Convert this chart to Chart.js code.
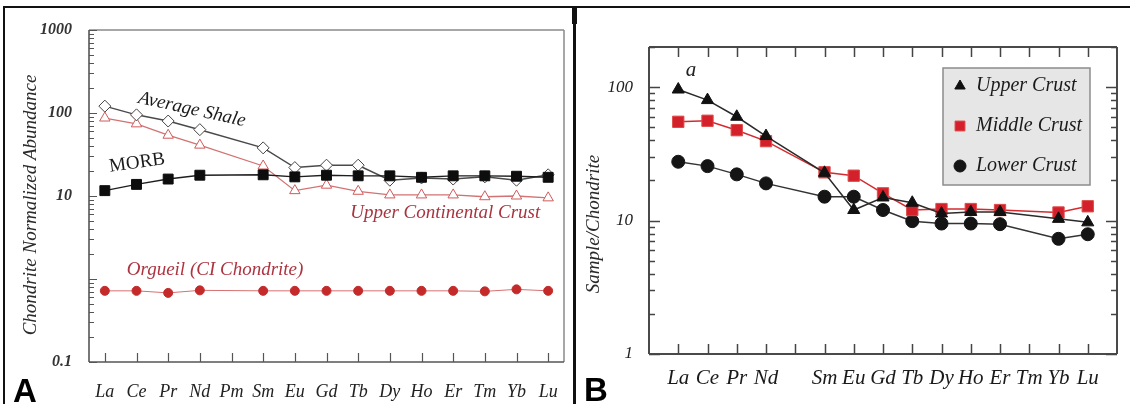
<!DOCTYPE html>
<html><head><meta charset="utf-8">
<script src="https://cdn.jsdelivr.net/npm/chart.js@4"></script>
<style>
html,body{margin:0;padding:0;background:#fff;width:1130px;height:404px;overflow:hidden;position:relative;}
#ca{position:absolute;left:0;top:0;}
#cb{position:absolute;left:577px;top:0;}
.ln{position:absolute;background:#111;}
</style></head><body>
<canvas id="ca" width="573" height="404"></canvas>
<canvas id="cb" width="553" height="404"></canvas>
<div class="ln" style="left:3px;top:6px;width:1127px;height:2px"></div>
<div class="ln" style="left:3px;top:6px;width:2px;height:398px"></div>
<div class="ln" style="left:573px;top:6px;width:3px;height:398px"></div>
<div class="ln" style="left:572px;top:6px;width:5px;height:18px"></div>
<script>
// ---------- Panel A data ----------
const elementsA = ['La','Ce','Pr','Nd','Pm','Sm','Eu','Gd','Tb','Dy','Ho','Er','Tm','Yb','Lu'];
const averageShale = [121, 95, 80, 63, null, 38, 22, 23.5, 23.5, 15.5, 16.5, 16, 17, 15.5, 18];
const morb = [11.6, 13.8, 16, 17.8, null, 18, 17, 17.8, 17.5, 17.5, 16.8, 17.5, 17.5, 17.3, 16.8];
const upperContinentalCrust = [87, 74, 54, 41, null, 23, 11.6, 13.5, 11.4, 10.3, 10.3, 10.3, 9.8, 10, 9.5];
const orgueil = [0.72, 0.72, 0.68, 0.73, null, 0.72, 0.72, 0.72, 0.72, 0.72, 0.72, 0.72, 0.71, 0.75, 0.72];
const yTicksA = [0.1, 1, 10, 100, 1000];
const yTickLabelsA = ['0.1', '', '10', '100', '1000'];

// ---------- Panel B data ----------
const elementsB = ['La','Ce','Pr','Nd','Pm','Sm','Eu','Gd','Tb','Dy','Ho','Er','Tm','Yb','Lu'];
const xTickLabelsB = ['La','Ce','Pr','Nd','','Sm','Eu','Gd','Tb','Dy','Ho','Er','Tm','Yb','Lu'];
const upperCrust = [96, 80, 60, 43, null, 22.8, 12, 14.9, 13.6, 11.3, 11.6, 11.6, null, 10.3, 9.7];
const middleCrust = [55, 56, 47.6, 39.4, null, 23, 21.7, 16, 12, 12.2, 12.2, 12, null, 11.5, 12.8];
const lowerCrust = [27.6, 25.6, 22.2, 19, null, 15.1, 15.1, 12, 9.9, 9.5, 9.5, 9.4, null, 7.3, 7.9];
const yTicksB = [1, 10, 100];
const yTickLabelsB = ['1', '10', '100'];

const SERIF = "'Liberation Serif','DejaVu Serif',serif";
const SANS = "'Liberation Sans',Arial,sans-serif";

function logMarks(min, max) {
  const out = [];
  const e0 = Math.floor(Math.log10(min) + 1e-9), e1 = Math.ceil(Math.log10(max) - 1e-9);
  for (let e = e0; e <= e1; e++) {
    for (let k = 1; k <= 9; k++) {
      const v = k * Math.pow(10, e);
      if (v >= min * 0.999 && v <= max * 1.001) out.push({ v, major: k === 1 });
    }
  }
  return out;
}

const decor = {
  id: 'decor',
  beforeDatasetsDraw(chart, args, o) {
    const ctx = chart.ctx, ca = chart.chartArea, xs = chart.scales.x, ys = chart.scales.y;
    ctx.save();
    o.frame.forEach(f => {
      ctx.strokeStyle = f.color; ctx.lineWidth = f.width; ctx.beginPath();
      if (f.side === 'left') { ctx.moveTo(ca.left, ca.top); ctx.lineTo(ca.left, ca.bottom); }
      if (f.side === 'right') { ctx.moveTo(ca.right, ca.top); ctx.lineTo(ca.right, ca.bottom); }
      if (f.side === 'top') { ctx.moveTo(ca.left, ca.top); ctx.lineTo(ca.right, ca.top); }
      if (f.side === 'bottom') { ctx.moveTo(ca.left, ca.bottom); ctx.lineTo(ca.right, ca.bottom); }
      ctx.stroke();
    });
    ctx.strokeStyle = o.tickColor; ctx.lineWidth = o.tickWidth; ctx.beginPath();
    logMarks(ys.min, ys.max).forEach(m => {
      const py = Math.round(ys.getPixelForValue(m.v)) + 0.5;
      const len = m.major ? o.yMajor : o.yMinor;
      o.ySides.forEach(s => {
        if (s === 'left') { ctx.moveTo(ca.left, py); ctx.lineTo(ca.left + len, py); }
        else { ctx.moveTo(ca.right, py); ctx.lineTo(ca.right - len, py); }
      });
    });
    xs.ticks.forEach((t, i) => {
      const px = Math.round(xs.getPixelForTick(i)) + 0.5;
      o.xSides.forEach(s => {
        if (s === 'bottom') { ctx.moveTo(px, ca.bottom); ctx.lineTo(px, ca.bottom - o.xLen); }
        else { ctx.moveTo(px, ca.top); ctx.lineTo(px, ca.top + o.xLen); }
      });
    });
    ctx.stroke();
    ctx.restore();
  },
  afterDatasetsDraw(chart, args, o) {
    const ctx = chart.ctx, xs = chart.scales.x, ys = chart.scales.y, ca = chart.chartArea;
    ctx.save();
    (o.notes || []).forEach(n => {
      let x, y;
      if (n.px !== undefined) { x = n.px; y = n.py; }
      else { x = xs.getPixelForValue(n.x); y = ys.getPixelForValue(n.y); }
      ctx.save();
      ctx.translate(x, y);
      ctx.rotate((n.rot || 0) * Math.PI / 180);
      ctx.font = n.font; ctx.fillStyle = n.color;
      ctx.textAlign = n.align || 'center'; ctx.textBaseline = n.base || 'middle';
      ctx.fillText(n.text, 0, 0);
      ctx.restore();
    });
    if (o.legend) {
      const L = o.legend;
      const bx = ca.left + L.dx, by = ca.top + L.dy;
      ctx.fillStyle = L.fill; ctx.fillRect(bx, by, L.w, L.h);
      ctx.strokeStyle = L.border; ctx.lineWidth = 1.5; ctx.strokeRect(bx, by, L.w, L.h);
      chart.data.datasets.forEach((ds, i) => {
        const cy = by + L.rowTop + i * L.rowGap;
        ctx.fillStyle = ds.pointBackgroundColor;
        ctx.strokeStyle = ds.pointBorderColor;
        ctx.lineWidth = 1;
        Chart.helpers.drawPoint(ctx, {
          pointStyle: ds.pointStyle, radius: L.markR[i], borderWidth: 1, rotation: 0
        }, bx + L.markX, cy);
        ctx.font = L.font; ctx.fillStyle = '#1a1a1a';
        ctx.textAlign = 'left'; ctx.textBaseline = 'middle';
        ctx.fillText(ds.label, bx + L.textX, cy);
      });
    }
    ctx.restore();
  }
};

function mkLine(label, data, style) {
  return Object.assign({
    label, data, spanGaps: true, tension: 0, fill: false
  }, style);
}

// ---------- Chart A ----------
new Chart(document.getElementById('ca'), {
  type: 'line',
  data: {
    labels: elementsA,
    datasets: [
      mkLine('MORB', morb, { borderColor: '#1e1e1e', borderWidth: 1.4, pointStyle: 'rect', pointRadius: 7,
        pointBackgroundColor: '#0d0d0d', pointBorderColor: '#0d0d0d', pointBorderWidth: 1 }),
      mkLine('Average Shale', averageShale, { borderColor: '#4a4a4a', borderWidth: 1.5, pointStyle: 'rectRot', pointRadius: 6,
        pointBackgroundColor: '#ffffff', pointBorderColor: '#444', pointBorderWidth: 1 }),
      mkLine('Upper Continental Crust', upperContinentalCrust, { borderColor: '#d27272', borderWidth: 1.3, pointStyle: 'triangle', pointRadius: 6,
        pointBackgroundColor: '#ffffff', pointBorderColor: '#d05a5a', pointBorderWidth: 1 }),
      mkLine('Orgueil (CI Chondrite)', orgueil, { borderColor: '#d77070', borderWidth: 1, pointStyle: 'circle', pointRadius: 4.5,
        pointBackgroundColor: '#c42a2a', pointBorderColor: '#c42a2a', pointBorderWidth: 1 })
    ]
  },
  options: {
    responsive: false, animation: false, devicePixelRatio: 1, events: [],
    layout: { padding: { left: 0, top: 30, right: 9, bottom: 0 } },
    plugins: {
      legend: { display: false }, tooltip: { enabled: false },
      decor: {
        frame: [
          { side: 'top', color: '#8a8a8a', width: 1.5 },
          { side: 'right', color: '#8a8a8a', width: 1.5 },
          { side: 'left', color: '#555', width: 1.6 },
          { side: 'bottom', color: '#555', width: 1.6 }
        ],
        tickColor: '#555', tickWidth: 1.2, yMajor: 8, yMinor: 5, ySides: ['left'], xSides: ['bottom'], xLen: 9,
        notes: [
          { text: 'Average Shale', x: 2.75, y: 110, rot: 12.5, font: 'italic 19px ' + SERIF, color: '#1a1a1a' },
          { text: 'MORB', x: 1.02, y: 25, rot: -8, font: '19px ' + SERIF, color: '#1a1a1a' },
          { text: 'Upper Continental Crust', x: 10.75, y: 6.2, font: 'italic 19px ' + SERIF, color: '#a8343f' },
          { text: 'Orgueil (CI Chondrite)', x: 3.48, y: 1.28, font: 'italic 19px ' + SERIF, color: '#ad3440' },
          { text: 'Chondrite Normalized Abundance', px: 31, py: 205, rot: -90, font: 'italic 19px ' + SERIF, color: '#2a2a2a' },
          { text: 'A', px: 13, py: 402, align: 'left', base: 'alphabetic', font: 'bold 33px ' + SANS, color: '#000' }
        ]
      }
    },
    scales: {
      x: {
        type: 'category', offset: true,
        grid: { display: false }, border: { display: false },
        ticks: { autoSkip: false, maxRotation: 0, padding: 11, color: '#222', font: { family: SERIF, size: 18, style: 'italic' } },
        afterFit: s => { s.height = 42; }
      },
      y: {
        type: 'logarithmic', min: 0.1, max: 1000,
        grid: { display: false }, border: { display: false },
        afterBuildTicks: s => { s.ticks = yTicksA.map(v => ({ value: v })); },
        ticks: { autoSkip: false, padding: 9, color: '#333',
          font: { family: SERIF, size: 16, style: 'italic', weight: 'bold' },
          callback: (v, i) => yTickLabelsA[i] },
        afterFit: s => { s.width = 89; }
      }
    }
  },
  plugins: [decor]
});

// ---------- Chart B ----------
const pts = arr => arr.map((v, i) => ({ x: i, y: v }));
new Chart(document.getElementById('cb'), {
  type: 'line',
  data: {
    datasets: [
      mkLine('Upper Crust', pts(upperCrust), { borderColor: '#2a2a2a', borderWidth: 1.5, pointStyle: 'triangle', pointRadius: 7,
        pointBackgroundColor: '#111', pointBorderColor: '#111', pointBorderWidth: 1 }),
      mkLine('Middle Crust', pts(middleCrust), { borderColor: '#d42a2f', borderWidth: 1.5, pointStyle: 'rect', pointRadius: 8,
        pointBackgroundColor: '#d3202a', pointBorderColor: '#e04a4a', pointBorderWidth: 1 }),
      mkLine('Lower Crust', pts(lowerCrust), { borderColor: '#333', borderWidth: 1.5, pointStyle: 'circle', pointRadius: 6.5,
        pointBackgroundColor: '#151515', pointBorderColor: '#151515', pointBorderWidth: 1 })
    ]
  },
  options: {
    responsive: false, animation: false, devicePixelRatio: 1, events: [],
    layout: { padding: { left: 0, top: 47, right: 13, bottom: 0 } },
    plugins: {
      legend: { display: false }, tooltip: { enabled: false },
      decor: {
        frame: [
          { side: 'top', color: '#4a4a4a', width: 2 },
          { side: 'right', color: '#4a4a4a', width: 2 },
          { side: 'left', color: '#4a4a4a', width: 2 },
          { side: 'bottom', color: '#4a4a4a', width: 2 }
        ],
        tickColor: '#444', tickWidth: 1.5, yMajor: 11, yMinor: 6, ySides: ['left', 'right'], xSides: ['bottom', 'top'], xLen: 10,
        notes: [
          { text: 'a', x: 0.44, y: 134, font: 'italic 21px ' + SERIF, color: '#222' },
          { text: 'Sample/Chondrite', px: 17, py: 224, rot: -90, font: 'italic 19px ' + SERIF, color: '#2a2a2a' },
          { text: 'B', px: 7, py: 401, align: 'left', base: 'alphabetic', font: 'bold 33px ' + SANS, color: '#000' }
        ],
        legend: { dx: 294, dy: 21, w: 147, h: 117, fill: '#e6e6e6', border: '#8c8c8c',
          rowTop: 18, rowGap: 40, markX: 17, textX: 33, markR: [6, 7, 6], font: 'italic 20px ' + SERIF }
      }
    },
    scales: {
      x: {
        type: 'linear', min: -1, max: 15,
        grid: { display: false }, border: { display: false },
        afterBuildTicks: s => { s.ticks = elementsB.map((e, i) => ({ value: i })); },
        ticks: { autoSkip: false, maxRotation: 0, padding: 4, color: '#1a1a1a',
          font: { family: SERIF, size: 21, style: 'italic' },
          callback: v => xTickLabelsB[v] ?? '' },
        afterFit: s => { s.height = 50; }
      },
      y: {
        type: 'logarithmic', min: 1, max: 200,
        grid: { display: false }, border: { display: false },
        afterBuildTicks: s => { s.ticks = yTicksB.map(v => ({ value: v })); },
        ticks: { autoSkip: false, padding: 8, color: '#222',
          font: { family: SERIF, size: 17, style: 'italic' },
          callback: (v, i) => yTickLabelsB[i] },
        afterFit: s => { s.width = 72; }
      }
    }
  },
  plugins: [decor]
});
</script>
</body></html>
